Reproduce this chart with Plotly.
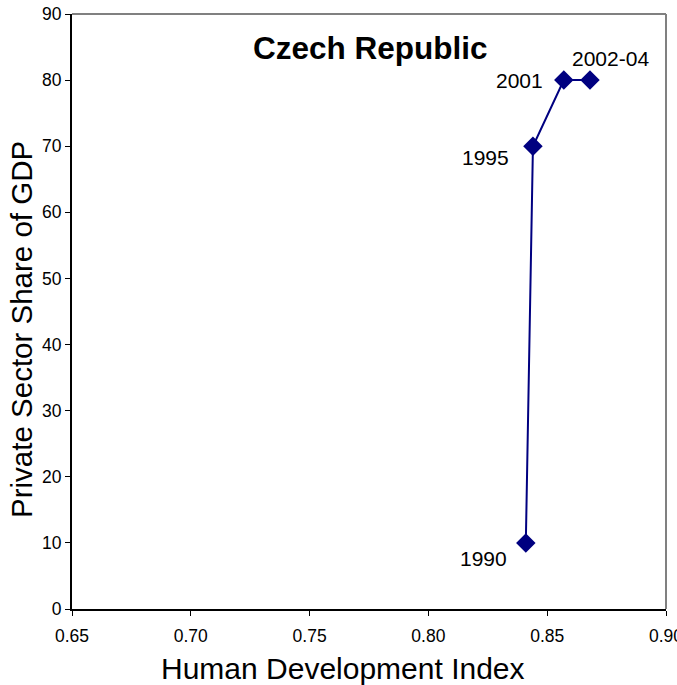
import plotly.graph_objects as go

years = ["1990", "1995", "2001", "2002-04"]
hdi = [0.841, 0.844, 0.857, 0.868]
private_share = [10, 70, 80, 80]
x_ticks = [0.65, 0.70, 0.75, 0.80, 0.85, 0.90]
x_tick_labels = ["0.65", "0.70", "0.75", "0.80", "0.85", "0.90"]
y_ticks = [0, 10, 20, 30, 40, 50, 60, 70, 80, 90]

navy = "#000080"
font = "Liberation Sans, Arial, sans-serif"

fig = go.Figure()
fig.add_trace(go.Scatter(
    x=hdi, y=private_share, mode="lines+markers",
    line=dict(color=navy, width=2),
    marker=dict(symbol="diamond", size=15, color=navy),
    showlegend=False, hoverinfo="skip",
))

label_offsets = [(-42, -16), (-47, -11), (-44, 0), (21, 22)]
for yr, xv, yv, (dx, dy) in zip(years, hdi, private_share, label_offsets):
    fig.add_annotation(x=xv, y=yv, text=yr, showarrow=False,
                       xshift=dx, yshift=dy,
                       font=dict(family=font, size=21, color="black"))

fig.add_annotation(x=0.502, y=0.943, xref="paper", yref="paper", text="<b>Czech Republic</b>",
                   showarrow=False, xanchor="center", yanchor="middle",
                   font=dict(family=font, size=31.5, color="black"))

# axis titles
fig.add_annotation(x=0.456, y=0, xref="paper", yref="paper", yshift=-59,
                   text="Human Development Index", showarrow=False,
                   xanchor="center", yanchor="middle",
                   font=dict(family=font, size=30, color="black"))
fig.add_annotation(x=0, y=0.469, xref="paper", yref="paper", xshift=-50,
                   text="Private Sector Share of GDP", showarrow=False, textangle=-90,
                   xanchor="center", yanchor="middle",
                   font=dict(family=font, size=29.5, color="black"))

# top and right frame lines in gray
fig.add_shape(type="line", xref="paper", yref="paper", x0=0, x1=1, y0=1, y1=1,
              line=dict(color="#808080", width=2))
fig.add_shape(type="line", xref="paper", yref="paper", x0=1, x1=1, y0=0, y1=1,
              line=dict(color="#808080", width=2))

fig.update_layout(
    width=677, height=685,
    margin=dict(l=72, r=11, t=14, b=76),
    paper_bgcolor="white", plot_bgcolor="white",
    font=dict(family=font, color="black"),
    xaxis=dict(range=[0.65, 0.90], tickvals=x_ticks, ticktext=x_tick_labels,
               showgrid=False, zeroline=False, showline=True, linecolor="black", linewidth=2,
               ticks="outside", ticklen=5, tickcolor="black", tickwidth=1,
               ticklabelstandoff=5, automargin=False, ticklabeloverflow="allow",
               tickfont=dict(family=font, size=17.5)),
    yaxis=dict(range=[0, 90], tickvals=y_ticks,
               showgrid=False, zeroline=False, showline=True, linecolor="black", linewidth=2,
               ticks="outside", ticklen=5, tickcolor="black", tickwidth=1,
               automargin=False, ticklabeloverflow="allow",
               tickfont=dict(family=font, size=17.5)),
)

fig.write_html("out.html", config={"displayModeBar": False},
               post_script="document.body.style.margin='0';document.body.style.overflow='hidden';")
